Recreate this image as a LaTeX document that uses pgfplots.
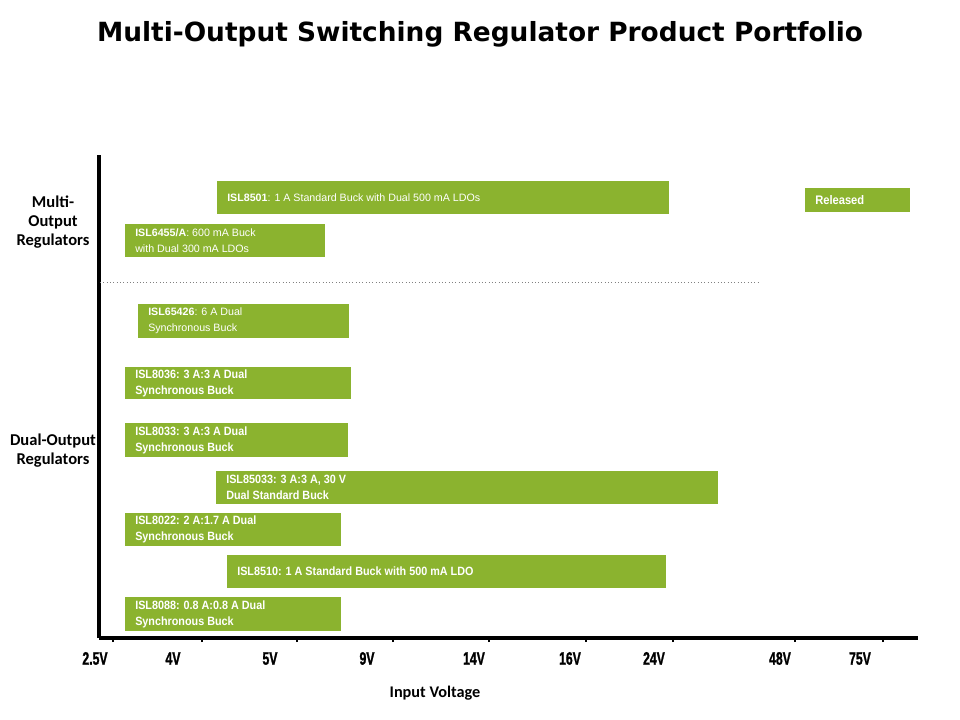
\documentclass[border=0pt]{standalone}
\usepackage{pgfplots}
\pgfplotsset{compat=1.18}
\usepackage{fontspec}
\setmainfont{Liberation Sans}
\newfontfamily\titlefont{DejaVu Sans}
\newfontfamily\calfont{Carlito}
\newfontfamily\narrowfont[FakeStretch=0.9]{Liberation Sans}
\newfontfamily\tickfont[FakeStretch=0.68,FakeBold=1.2]{Liberation Sans}
\definecolor{barg}{RGB}{139,179,47}

% one range bar: x from #1 to #2, y from #3 to #4
\newcommand{\rbar}[4]{\addplot[fill=barg,draw=none] coordinates {(#1,#3) (#2,#3) (#2,#4) (#1,#4)} -- cycle;}

\tikzset{
  reg/.style={anchor=west,align=left,text=white,inner sep=0pt,font=\fontsize{8bp}{12bp}\selectfont},
  regb/.style={anchor=west,align=left,text=white,inner sep=0pt,font=\narrowfont\bfseries\fontsize{9bp}{12bp}\selectfont},
}

\begin{document}
\begin{tikzpicture}
\path[use as bounding box] (-74.25bp,-61.5bp) rectangle (645.75bp,478.5bp);
\begin{axis}[
  at={(0,0)}, anchor=south west,
  scale only axis,
  width=614.25bp, height=362.25bp,
  xmin=99, xmax=918, ymin=82, ymax=565,
  axis x line=bottom, axis y line=left,
  axis line style={-, line width=2.4bp},
  clip=false,
  ytick=\empty,
  xtick={99,173,270,367,474,570,654,780,860},
  xticklabels={\makebox[0pt][c]{\hspace*{-6bp}2.5V},4V,5V,9V,14V,16V,24V,48V,75V},
  major tick length=0pt,
  xticklabel style={anchor=base, yshift=-20bp, font=\tickfont\bfseries\fontsize{13.5bp}{13.5bp}\selectfont},
  extra x ticks={113,202,297,393,489,586,673,795,883},
  extra x tick labels={},
  extra x tick style={major tick length=3bp, tick align=outside, tick style={line width=1.8bp, black}},
]
% multi-output
\rbar{217}{669}{506}{539}
\rbar{805}{910}{508}{532}
\rbar{125}{325}{463}{496}
% dual-output
\rbar{138}{349}{382}{416}
\rbar{125}{351}{321}{353}
\rbar{125}{348}{263}{297}
\rbar{216}{718}{216}{249}
\rbar{125}{341}{174}{207}
\rbar{227}{666}{132}{165}
\rbar{125}{341}{89}{123}

\addplot[gray, dotted, line width=0.5pt] coordinates {(100,438) (758,438)};

\node[reg] at (axis cs:227,522.5) {\textbf{ISL8501}: 1 A Standard Buck with Dual 500 mA LDOs};
\node[anchor=west,text=white,inner sep=0pt,font=\narrowfont\bfseries\fontsize{9.3bp}{10bp}\selectfont] at (axis cs:815,519.5) {Released};
\node[reg] at (axis cs:135,479.5) {\textbf{ISL6455/A}: 600 mA Buck\\with Dual 300 mA LDOs};
\node[reg] at (axis cs:148,399) {\textbf{ISL65426}: 6 A Dual\\Synchronous Buck};
\node[regb] at (axis cs:135,337) {ISL8036: 3 A:3 A Dual\\Synchronous Buck};
\node[regb] at (axis cs:135,280) {ISL8033: 3 A:3 A Dual\\Synchronous Buck};
\node[regb] at (axis cs:226,232.5) {ISL85033: 3 A:3 A, 30 V\\Dual Standard Buck};
\node[regb] at (axis cs:135,190.5) {ISL8022: 2 A:1.7 A Dual\\Synchronous Buck};
\node[regb] at (axis cs:237,148.5) {ISL8510: 1 A Standard Buck with 500 mA LDO};
\node[regb] at (axis cs:135,106) {ISL8088: 0.8 A:0.8 A Dual\\Synchronous Buck};

\node[align=center,font=\calfont\bfseries\fontsize{12.4bp}{14.25bp}\selectfont] at (axis cs:53,498) {Multi-\\Output\\Regulators};
\node[align=center,font=\calfont\bfseries\fontsize{12.4bp}{14.25bp}\selectfont] at (axis cs:53,269) {Dual-Output\\Regulators};
\node[font=\calfont\bfseries\fontsize{12.2bp}{14bp}\selectfont] at (axis cs:435,27) {Input Voltage};
\node[anchor=base,font=\titlefont\bfseries\fontsize{19.8bp}{22bp}\selectfont] at (axis cs:480,678) {Multi-Output Switching Regulator Product Portfolio};
\end{axis}
\end{tikzpicture}
\end{document}
